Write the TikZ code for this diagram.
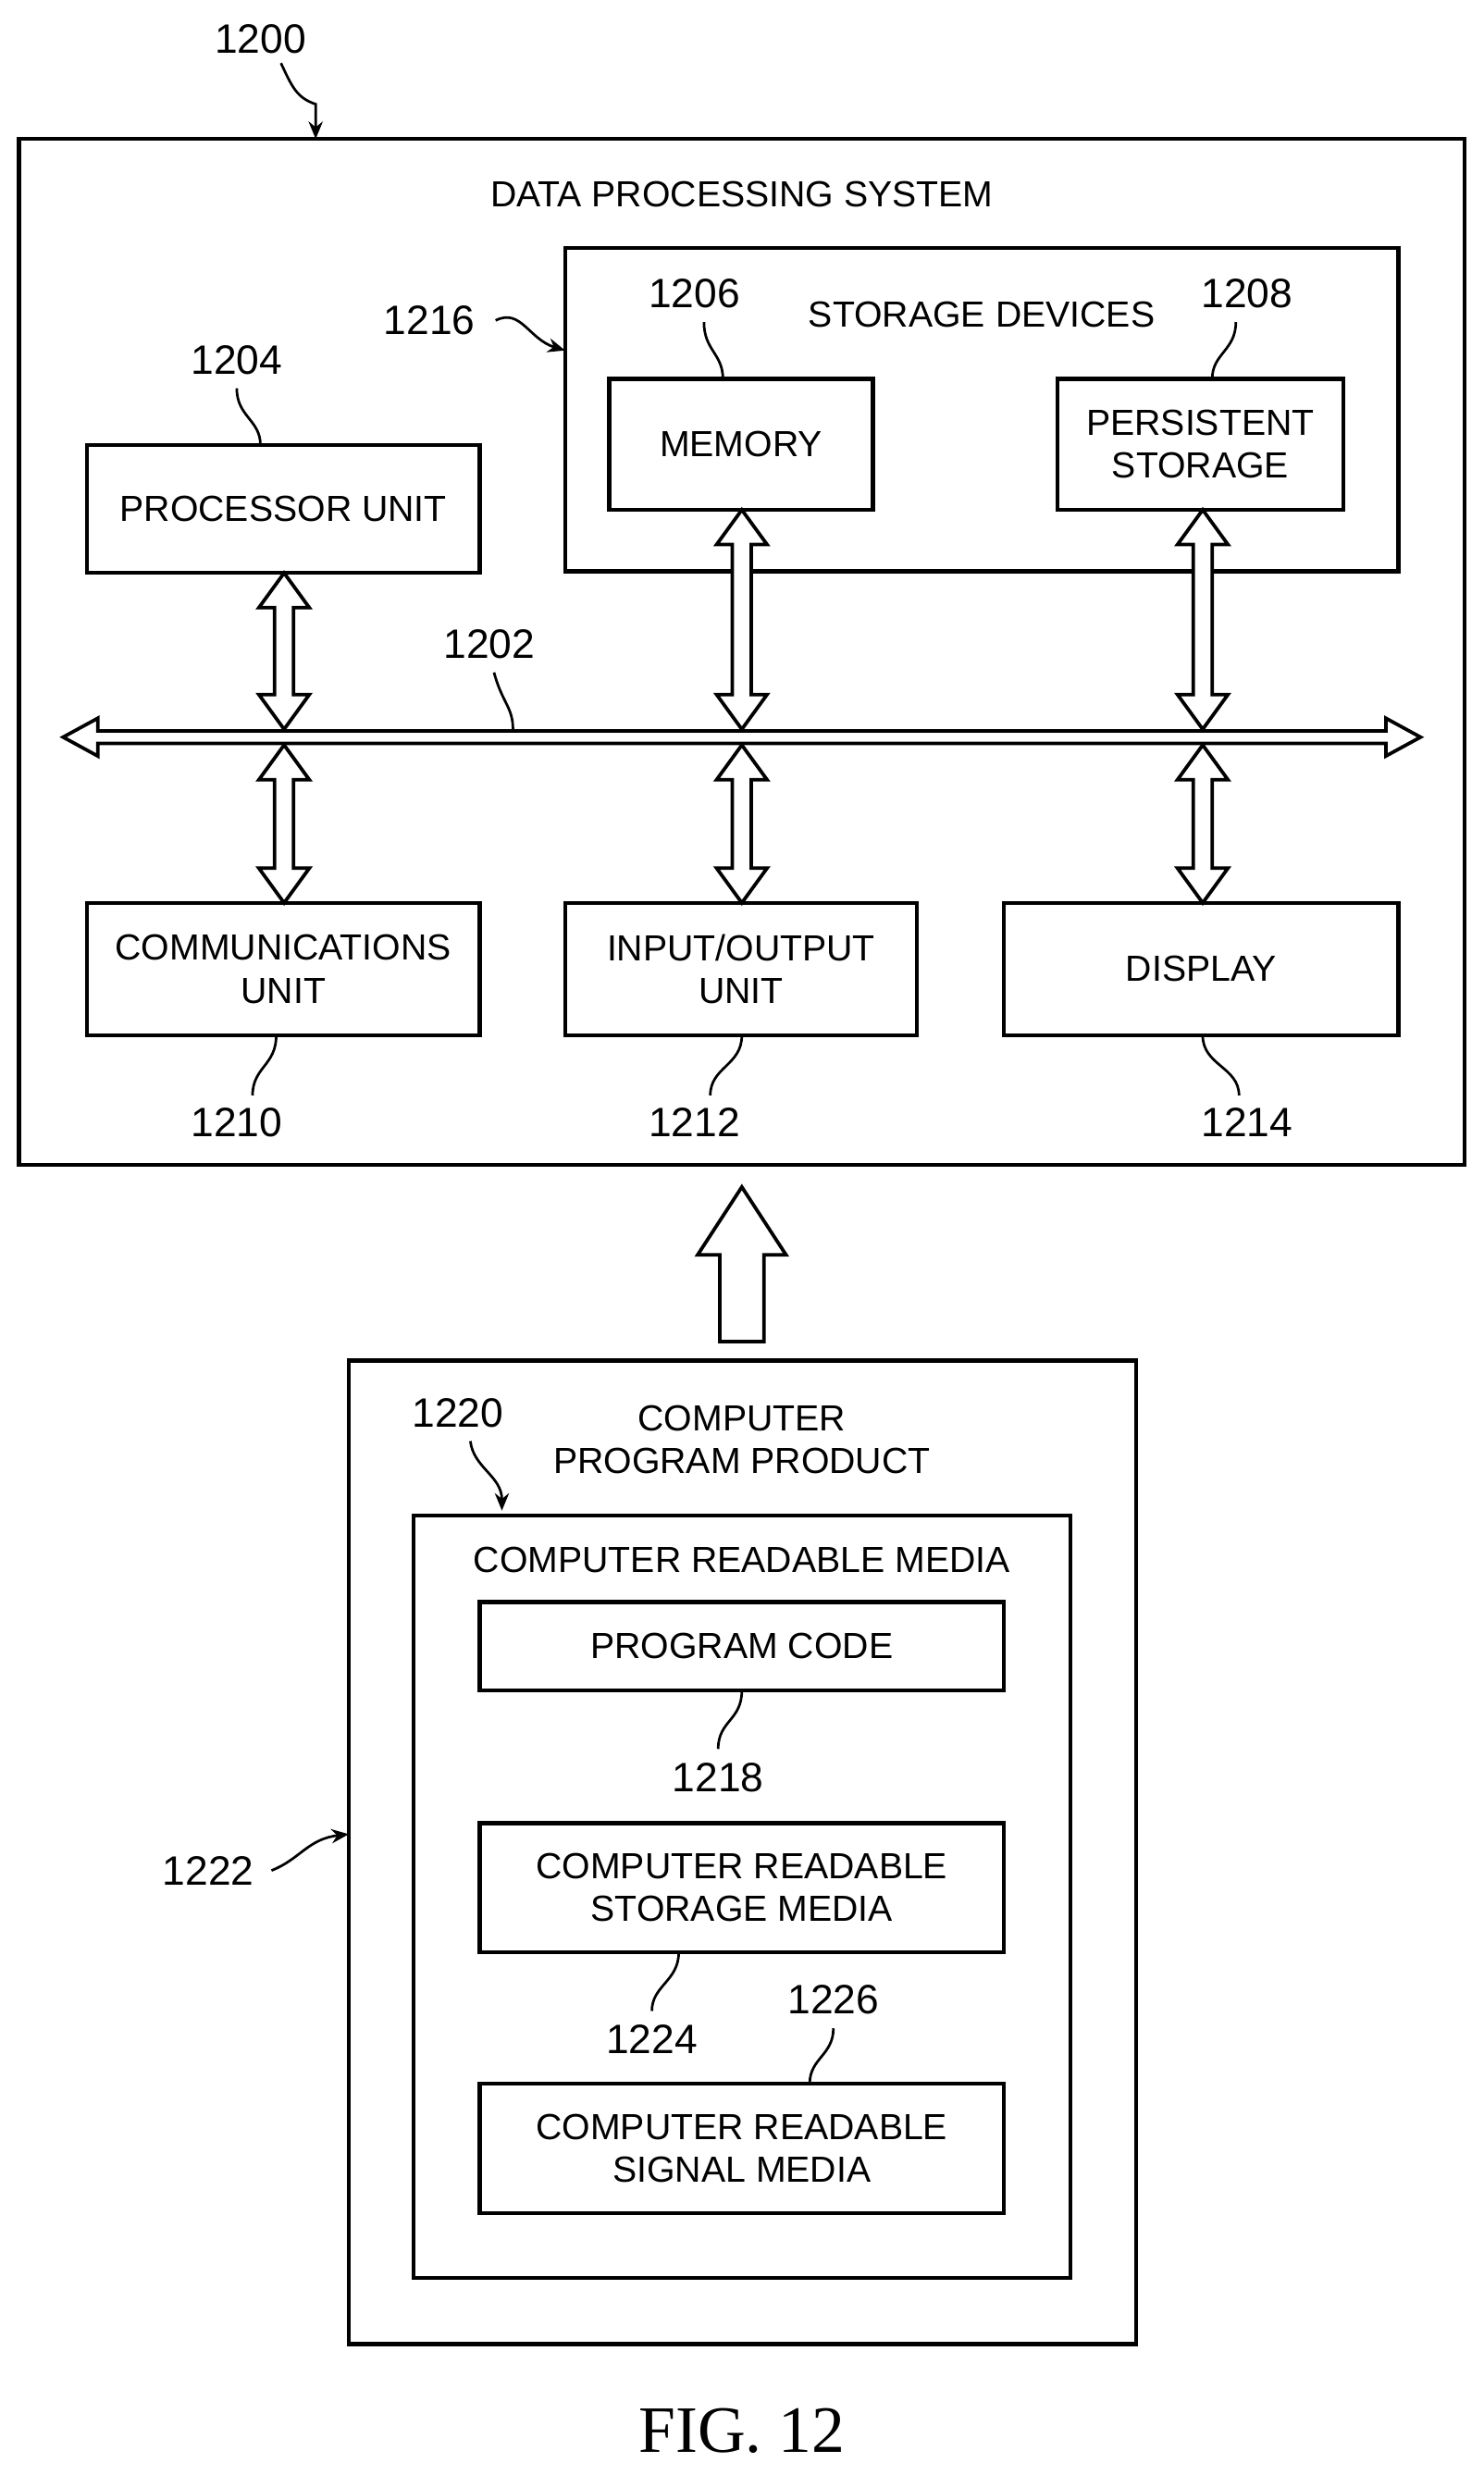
\documentclass[tikz,border=0pt]{standalone}
\usepackage{fontspec}
\setmainfont{Liberation Sans}
\newfontfamily\figfont{Liberation Serif}
\usetikzlibrary{arrows.meta}
\newcommand\vdarrow[3]{\draw[line width=2.2pt,line join=miter,fill=white] (#1,#2) -- ++(-16,22) -- ++(10,0) -- (#1-6,#3-22) -- ++(-10,0) -- (#1,#3) -- (#1+16,#3-22) -- ++(-10,0) -- (#1+6,#2+22) -- ++(10,0) -- cycle;}
\begin{document}
\begin{tikzpicture}[x=1pt,y=-1pt,
  box/.style={draw,line width=2.5pt},
  txt/.style={font=\fontsize{23}{27}\selectfont,align=center,inner sep=0pt},
  num/.style={font=\fontsize{26}{30}\selectfont,inner sep=0pt},
  lead/.style={line width=1.6pt},
  leada/.style={line width=1.6pt,-{Stealth[length=11pt,width=9pt]}}]
\useasboundingbox (0,0) rectangle (940,1568);
% outer
\draw[box] (12,88) rectangle (928,738);
\node[txt] (dps) at (470,123) {DATA PROCESSING SYSTEM};
\node[num] (n1200) at (165,25) {1200};
\coordinate (c1200) at (200,88);
\draw[leada] (178,40) .. controls (185,55) and (188,62) .. (200,66) -- (c1200);
% storage
\draw[box] (358,157) rectangle (886,362);
\node[txt] (sd) at (622,199) {STORAGE DEVICES};
\node[num] (n1216) at (272,203) {1216};
\draw[leada] (314,203) .. controls (330,195) and (335,215) .. (358,222);
\node[box,txt,minimum width=167,minimum height=83] (mem) at (469.5,281.5) {MEMORY};
\node[num] (n1206) at (440,186) {1206};
\draw[lead] (446,204) .. controls (446,222) and (458,224) .. (458,240);
\node[box,txt,minimum width=181,minimum height=83] (ps) at (760.5,281.5) {PERSISTENT\\STORAGE};
\node[num] (n1208) at (790,186) {1208};
\draw[lead] (783,204) .. controls (783,222) and (768,224) .. (768,240);
\node[box,txt,minimum width=249,minimum height=81] (pu) at (179.5,322.5) {PROCESSOR UNIT};
\node[num] (n1204) at (150,228) {1204};
\draw[lead] (150,246) .. controls (150,264) and (165,266) .. (165,282);
% bus
\draw[line width=2.2pt,line join=miter,fill=white] (40,467) -- (62,455) -- (62,463) -- (878,463) -- (878,455) -- (900,467) -- (878,479) -- (878,471) -- (62,471) -- (62,479) -- cycle;
\node[num] (n1202) at (310,408) {1202};
\draw[lead] (313,426) .. controls (318,445) and (325,448) .. (325,462);
\vdarrow{180}{363}{462}
\vdarrow{470}{323}{462}
\vdarrow{762}{323}{462}
\vdarrow{180}{472}{572}
\vdarrow{470}{472}{572}
\vdarrow{762}{472}{572}
% bottom row
\node[box,txt,minimum width=249,minimum height=84] (cu) at (179.5,614) {COMMUNICATIONS\\UNIT};
\node[box,txt,minimum width=223,minimum height=84] (io) at (469.5,614) {INPUT/OUTPUT\\UNIT};
\node[box,txt,minimum width=250,minimum height=84] (disp) at (761,614) {DISPLAY};
\node[num] (n1210) at (150,711) {1210};
\node[num] (n1212) at (440,711) {1212};
\node[num] (n1214) at (790,711) {1214};
\draw[lead] (175,656) .. controls (175,675) and (160,676) .. (160,694);
\draw[lead] (470,656) .. controls (470,675) and (450,676) .. (450,694);
\draw[lead] (762,656) .. controls (762,675) and (785,676) .. (785,694);
% big arrow
\draw[line width=2.2pt,line join=miter,fill=white] (470,752) -- (498,795) -- (484,795) -- (484,850) -- (456,850) -- (456,795) -- (442,795) -- cycle;
% product
\draw[box] (221,862) rectangle (720,1485);
\node[txt] (cpp) at (470,912) {COMPUTER\\PROGRAM PRODUCT};
\node[num] (n1220) at (290,895) {1220};
\draw[leada] (298,913) .. controls (300,930) and (318,935) .. (318,957);
\node[num] (n1222) at (132,1185) {1222};
\draw[leada] (172,1185) .. controls (190,1178) and (195,1165) .. (221,1162);
\draw[box] (262,960) rectangle (678,1443);
\node[txt] (crm) at (470,988) {COMPUTER READABLE MEDIA};
\node[box,txt,minimum width=332,minimum height=56] (pc) at (470,1043) {PROGRAM CODE};
\node[num] (n1218) at (455,1126) {1218};
\draw[lead] (470,1071) .. controls (470,1090) and (455,1090) .. (455,1108);
\node[box,txt,minimum width=332,minimum height=82] (crsm) at (470,1196) {COMPUTER READABLE\\STORAGE MEDIA};
\node[num] (n1224) at (413,1292) {1224};
\draw[lead] (430,1237) .. controls (430,1255) and (413,1258) .. (413,1274);
\node[box,txt,minimum width=332,minimum height=82] (crsig) at (470,1361) {COMPUTER READABLE\\SIGNAL MEDIA};
\node[num] (n1226) at (528,1267) {1226};
\draw[lead] (528,1285) .. controls (528,1302) and (513,1304) .. (513,1320);
\node[font=\figfont\fontsize{42}{46}\selectfont] (fig) at (470,1540) {FIG. 12};
\end{tikzpicture}
\end{document}
